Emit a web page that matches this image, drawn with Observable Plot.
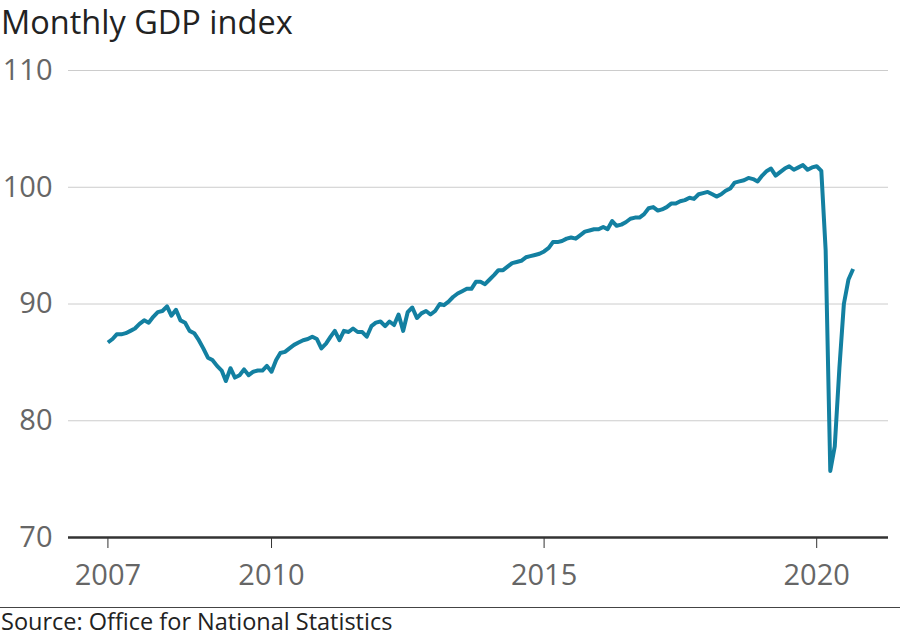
<!DOCTYPE html>
<html>
<head>
<meta charset="utf-8">
<script src="https://cdn.jsdelivr.net/npm/d3@7"></script>
<script src="https://cdn.jsdelivr.net/npm/@observablehq/plot@0.6"></script>
<style>
  html, body { margin: 0; padding: 0; background: #fff; }
  body { width: 900px; height: 638px; overflow: hidden; font-family: "Open Sans", sans-serif; }
  #title { height: 42px; font-size: 32.5px; line-height: 44px; color: #222; padding-left: 1px; white-space: nowrap; }
  #chart svg { display: block; }
  #caption { border-top: 1px solid #444; font-size: 23.5px; line-height: 27px; color: #222; padding-left: 1px; white-space: nowrap; }
</style>
</head>
<body>
<div id="title">Monthly GDP index</div>
<div id="chart"></div>
<div id="caption">Source: Office for National Statistics</div>
<script>
// Monthly GDP index values, Jan of each year onward
const v2007 = [86.7, 87.0, 87.4, 87.4, 87.5, 87.7, 87.9, 88.3, 88.6, 88.4, 88.9, 89.3];
const v2008 = [89.4, 89.8, 89.0, 89.5, 88.6, 88.4, 87.7, 87.5, 86.9, 86.2, 85.4, 85.2];
const v2009 = [84.7, 84.3, 83.4, 84.5, 83.7, 83.9, 84.4, 83.9, 84.2, 84.3, 84.3, 84.7];
const v2010 = [84.2, 85.2, 85.8, 85.9, 86.2, 86.5, 86.7, 86.9, 87.0, 87.2, 87.0, 86.2];
const v2011 = [86.6, 87.2, 87.7, 86.9, 87.7, 87.6, 87.9, 87.6, 87.6, 87.2, 88.1, 88.4];
const v2012 = [88.5, 88.1, 88.5, 88.2, 89.1, 87.7, 89.3, 89.7, 88.8, 89.2, 89.4, 89.1];
const v2013 = [89.4, 90.0, 89.9, 90.2, 90.6, 90.9, 91.1, 91.3, 91.3, 91.9, 91.9, 91.7];
const v2014 = [92.1, 92.5, 92.9, 92.9, 93.2, 93.5, 93.6, 93.7, 94.0, 94.1, 94.2, 94.3];
const v2015 = [94.5, 94.8, 95.3, 95.3, 95.4, 95.6, 95.7, 95.6, 95.9, 96.2, 96.3, 96.4];
const v2016 = [96.4, 96.6, 96.4, 97.1, 96.7, 96.8, 97.0, 97.3, 97.4, 97.4, 97.7, 98.2];
const v2017 = [98.3, 98.0, 98.1, 98.3, 98.6, 98.6, 98.8, 98.9, 99.1, 99.0, 99.4, 99.5];
const v2018 = [99.6, 99.4, 99.2, 99.4, 99.7, 99.9, 100.4, 100.5, 100.6, 100.8, 100.7, 100.5];
const v2019 = [101.0, 101.4, 101.6, 101.0, 101.3, 101.6, 101.8, 101.5, 101.7, 101.9, 101.5, 101.7];
const v2020 = [101.8, 101.4, 94.6, 75.7, 77.8, 84.5, 90.0, 92.1, 93.0];

const years = [2007, 2008, 2009, 2010, 2011, 2012, 2013, 2014, 2015, 2016, 2017, 2018, 2019, 2020];
const series = [v2007, v2008, v2009, v2010, v2011, v2012, v2013, v2014, v2015, v2016, v2017, v2018, v2019, v2020];

const xTickYears = [2007, 2010, 2015, 2020];
const yTicks = [70, 80, 90, 100, 110];

const data = [];
years.forEach((yr, k) => {
  series[k].forEach((v, m) => data.push({date: new Date(Date.UTC(yr, m, 1)), value: v}));
});

const chart = Plot.plot({
  width: 900,
  height: 565,
  marginTop: 28,
  marginBottom: 70,
  marginLeft: 68,
  marginRight: 12,
  style: {fontFamily: "Open Sans, sans-serif", fontSize: "29px", background: "#fff"},
  x: {type: "utc", domain: [new Date(Date.UTC(2006, 3, 12)), new Date(Date.UTC(2021, 3, 26))]},
  y: {domain: [70, 110]},
  marks: [
    Plot.gridY(yTicks.filter(d => d > 70), {stroke: "#cccccc", strokeOpacity: 1, strokeWidth: 1}),
    Plot.axisY(yTicks, {tickSize: 0, tickPadding: 16, fill: "#666", fontSize: 29, label: null}),
    Plot.axisX(xTickYears.map(y => new Date(Date.UTC(y, 0, 1))), {
      tickSize: 11, tickPadding: 16, stroke: "#333", fill: "#666", fontSize: 29,
      tickFormat: d => String(d.getUTCFullYear()), label: null
    }),
    Plot.ruleY([70], {stroke: "#333", strokeWidth: 2.5}),
    Plot.line(data, {x: "date", y: "value", stroke: "#1380a1", strokeWidth: 4, strokeLinejoin: "round", strokeLinecap: "butt"})
  ]
});
document.getElementById("chart").appendChild(chart);
</script>
</body>
</html>
